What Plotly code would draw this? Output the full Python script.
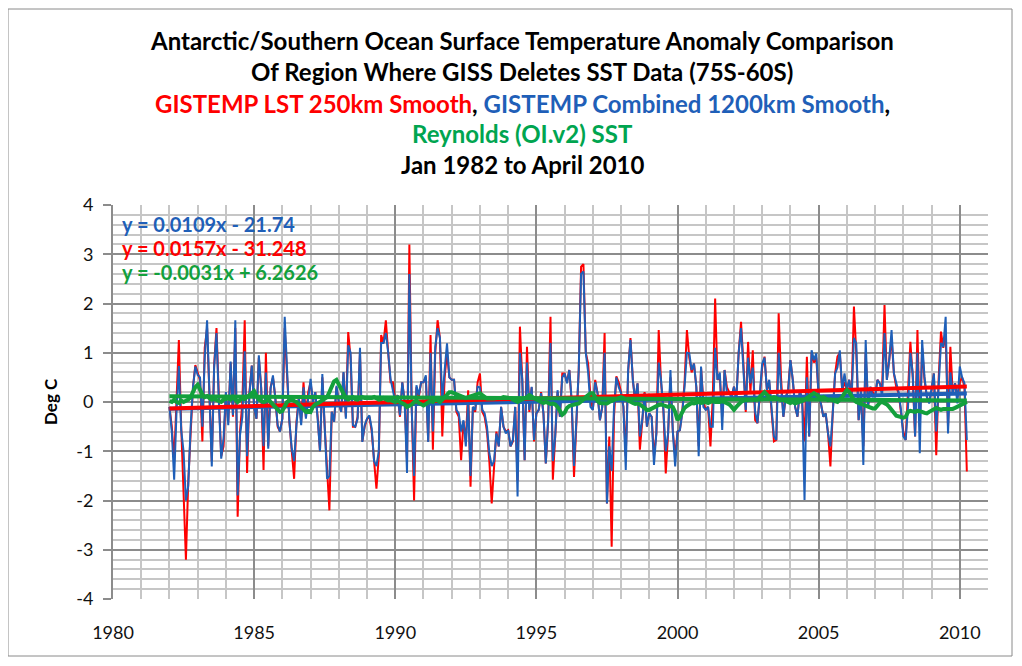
import plotly.graph_objects as go

# ---------------- data (monthly, Jan 1982 .. Apr 2010) ----------------
start_year = 1982
gistemp_lst_250km = [
    -0.1, -0.5, -1.2, -0.1, 1.26, -0.5, -1.8, -3.2, -1.6, -0.5, 0.3, 0.75,
    0.6, 0.45, -0.8, 1.1, 1.5, 0.2, -1.2, 0.75, 1.5, 0.1, -1.1, -0.9,
    0.18, -0.4, 0.8, -0.3, 1.5, -2.33, -0.6, 0.0, 1.66, -1.44, 0.2, 0.74,
    -0.1, -0.34, 0.9, 0.3, -1.38, 1.0, -0.9, 0.3, 0.5, 0.1, -0.5, -0.6,
    -0.34, 1.5, 0.5, -0.4, -1.0, -1.56, -0.4, 0.1, -0.4, 0.4, -0.3, 0.2,
    0.4, 0.0, 0.2, -0.3, -1.0, 0.5, -0.5, -1.4, -2.2, -0.2, -0.4, 0.3,
    0.0, -0.2, 0.6, -0.3, 1.42, 0.9, -0.5, -0.5, -0.3, 1.0, -0.8, -0.5,
    -0.34, -0.3, -0.6, -1.2, -1.76, -1.1, 1.36, 1.2, 1.66, 1.0, 0.4, 0.4,
    0.0, 0.14, -0.3, 0.4, 0.0, -1.2, 3.2, -0.1, -2.0, 0.3, 0.1, 0.4,
    0.4, 0.5, -0.8, 1.36, -0.97, 1.0, 1.66, 1.3, -0.7, 0.5, 1.0, 0.5,
    0.45, 0.45, -0.2, -0.3, -1.18, -0.4, -0.8, 0.24, -1.72, -0.1, -0.2, 0.4,
    0.58, -0.2, -0.3, -0.6, -1.2, -2.06, -1.38, -0.6, -0.9, -0.1, -0.5, -0.6,
    -0.57, -0.9, -0.8, -0.1, -1.6, 1.53, 0.45, -1.18, 1.12, -0.2, 0.3, -0.8,
    -0.23, -0.16, 0.2, -0.23, -1.25, -0.37, 1.73, -1.58, -0.7, 0.2, -0.3, 0.58,
    0.58, 0.4, 0.65, 0.0, -1.52, -0.4, 0.65, 2.75, 2.8, 1.0, 0.78, 0.1,
    -0.16, 0.45, 0.18, -0.37, -0.1, 1.4, -2.06, -0.7, -2.94, -0.3, 0.52, 0.4,
    0.2, -0.1, -1.1, 0.6, 1.3, 0.45, 0.0, 0.38, -0.97, -0.4, 0.2, -0.5,
    -0.23, -0.3, -1.1, -0.64, 1.46, 0.4, -0.16, -1.45, -0.64, 0.5, -0.6, -1.1,
    -0.6, -0.57, -0.2, 0.4, 1.46, 0.9, 0.6, 0.78, 0.3, -0.9, 0.7, 0.0,
    -0.16, -0.1, -0.9, 0.1, 2.1, 0.45, 0.5, -0.3, 0.65, 0.3, 0.2, 0.1,
    0.31, 0.04, 1.0, 1.63, 0.8, -0.2, 1.22, 0.2, 1.05, -0.37, -0.43, 0.18,
    0.7, 0.92, 0.24, 0.4, -0.2, -0.8, -0.77, 1.8, 0.5, -0.3, 0.1, 0.24,
    0.85, 0.45, -0.1, -0.3, 0.24, 0.0, -0.8, 0.92, -0.7, 1.0, 0.8, 0.9,
    0.11, -0.04, -0.3, -0.23, -0.64, -1.31, -0.2, 0.58, 0.92, 1.0, 0.24, 0.4,
    0.24, 0.45, 0.1, 1.94, 1.0, -0.37, 0.2, -0.9, 1.0, -0.1, 0.3, 0.2,
    0.11, 0.45, 0.38, 0.3, 1.97, 0.45, 0.85, 1.3, 0.58, 0.3, 0.18, -0.2,
    -0.6, -0.77, 0.2, 1.22, 0.5, -0.7, 1.46, -0.5, 1.1, 0.45, 0.1, 0.0,
    0.24, 0.58, -1.08, 0.45, 1.43, 1.1, 1.4, -0.5, 1.12, 0.18, 0.38, 0.1,
    0.4, 0.5, 0.3, -1.41,
]
gistemp_combined_1200km = [
    -0.1, -0.6, -1.58, -0.2, 0.73, -0.57, -1.0, -2.0, -1.7, -0.5, 0.3, 0.72,
    0.55, 0.5, -0.5, 0.9, 1.66, 0.3, -1.31, 0.7, 1.4, 0.0, -1.15, -0.74,
    0.2, -0.47, 0.82, -0.27, 1.66, -1.9, -0.67, -0.3, 1.03, -1.1, 0.14, 0.74,
    -0.1, -0.34, 0.95, 0.27, -0.9, 0.6, -0.95, 0.27, 0.54, 0.07, -0.47, -0.6,
    -0.34, 1.73, 0.54, -0.4, -0.95, -1.2, -0.47, 0.07, -0.47, 0.3, -0.34, 0.1,
    0.47, 0.0, 0.2, -0.34, -1.0, 0.57, -0.47, -1.56, -1.5, -0.2, -0.4, 0.33,
    0.0, -0.2, 0.61, -0.34, 1.15, 1.0, -0.47, -0.5, -0.34, 1.1, -0.81, -0.47,
    -0.34, -0.27, -0.54, -1.2, -1.3, -1.0, 1.2, 1.2, 1.4, 1.0, 0.47, 0.2,
    0.0, 0.14, -0.27, 0.4, 0.0, -1.44, 2.6, -0.14, -1.5, 0.34, 0.14, 0.4,
    0.4, 0.54, -0.81, 1.0, -0.6, 1.12, 1.5, 1.3, 0.0, 0.65, 1.19, 0.5,
    0.45, 0.45, -0.16, -0.23, -0.6, -0.37, -0.9, 0.0, -1.5, -0.1, -0.16, 0.31,
    0.3, -0.16, -0.23, -0.5, -1.04, -1.3, -1.2, -0.64, -0.9, -0.1, -0.5, -0.64,
    -0.57, -0.9, -0.77, -0.1, -1.92, 1.0, 0.45, -1.18, 0.8, -0.16, 0.31, -0.77,
    -0.23, -0.16, 0.18, -0.23, -1.25, -0.37, 1.2, -1.2, -0.7, 0.24, -0.3, 0.5,
    0.58, 0.38, 0.65, 0.04, -1.3, -0.37, 0.65, 2.6, 2.65, 1.0, 0.6, -0.1,
    -0.16, 0.4, 0.18, -0.37, -0.1, 1.0, -2.06, -0.9, -1.4, -0.1, 0.5, 0.3,
    0.18, -0.1, -1.38, 0.65, 1.26, 0.45, 0.04, 0.38, -0.7, -0.37, 0.18, -0.5,
    -0.23, -0.3, -1.28, -0.64, 0.8, 0.45, -0.16, -1.0, -0.64, 0.65, -0.6, -1.31,
    -0.6, -0.57, -0.23, 0.31, 1.0, 0.99, 0.65, 0.78, 0.31, -1.1, 0.72, -0.1,
    -0.16, -0.1, -0.5, -0.5, 1.1, 0.45, 0.6, -0.57, 0.65, 0.18, 0.18, 0.1,
    0.31, 0.04, 1.0, 1.5, 0.78, -0.16, 0.9, 0.38, 0.7, -0.2, -0.43, 0.1,
    0.78, 0.9, 0.24, 0.45, -0.23, -0.7, -0.77, 1.0, 0.31, -0.3, 0.11, 0.2,
    0.85, 0.45, -0.1, -0.3, 0.24, 0.04, -1.99, 0.5, -0.7, 1.05, 0.85, 0.99,
    0.11, -0.04, -0.3, -0.23, -0.64, -0.9, -0.23, 0.58, 0.7, 1.05, 0.24, 0.58,
    0.24, 0.45, 0.04, 1.3, 1.19, -0.37, 0.24, -1.28, 1.26, -0.1, 0.31, 0.11,
    0.11, 0.45, 0.38, 0.11, 1.4, 0.45, 0.85, 1.46, 0.58, 0.38, 0.2, -0.16,
    -0.7, -0.77, -0.1, 1.0, 0.58, -0.7, 1.0, -1.04, 1.26, 0.51, 0.11, -0.03,
    0.24, 0.58, -0.6, 0.45, 1.2, 1.12, 1.73, -0.64, 0.6, 0.18, 0.38, -0.03,
    0.72, 0.5, 0.38, -0.77,
]
reynolds_oiv2_sst = [
    0.02, 0.0, 0.05, 0.0, -0.02, 0.03, 0.0, 0.02, 0.05, 0.1, 0.22, 0.3,
    0.35, 0.25, 0.15, 0.1, 0.12, 0.08, 0.05, 0.06, 0.05, 0.02, 0.0, 0.05,
    0.06, 0.08, 0.05, 0.1, 0.05, 0.0, 0.04, 0.08, 0.06, 0.1, 0.15, 0.18,
    0.22, 0.12, 0.05, 0.02, 0.0, 0.02, 0.05, 0.0, -0.05, -0.1, -0.15, -0.2,
    -0.18, -0.1, 0.0, 0.03, 0.05, 0.02, 0.0, -0.05, -0.1, -0.15, -0.2, -0.18,
    -0.2, -0.1, -0.05, -0.03, 0.0, 0.03, 0.05, 0.1, 0.2, 0.3, 0.42, 0.45,
    0.35, 0.25, 0.15, 0.08, 0.05, 0.08, 0.1, 0.06, 0.05, 0.08, 0.1, 0.08,
    0.08, 0.06, 0.08, 0.1, 0.07, 0.05, 0.06, 0.08, 0.05, 0.03, 0.04, 0.02,
    0.0, 0.02, 0.0, -0.03, -0.05, -0.1, -0.08, -0.05, 0.0, 0.03, -0.02, -0.05,
    -0.07, -0.04, 0.0, 0.02, 0.0, 0.05, 0.03, 0.0, 0.05, 0.1, 0.15, 0.2,
    0.2, 0.18, 0.14, 0.12, 0.1, 0.1, 0.08, 0.1, 0.12, 0.14, 0.16, 0.18,
    0.18, 0.14, 0.1, 0.07, 0.07, 0.06, 0.07, 0.08, 0.07, 0.08, 0.1, 0.1,
    0.1, 0.08, 0.05, 0.02, 0.0, 0.03, 0.05, 0.08, 0.1, 0.14, 0.12, 0.08,
    0.05, 0.03, 0.0, -0.02, 0.0, -0.02, -0.04, -0.03, -0.05, -0.1, -0.2, -0.26,
    -0.22, -0.12, -0.08, -0.06, -0.05, -0.04, -0.03, 0.0, 0.05, 0.1, 0.15, 0.18,
    0.18, 0.1, 0.02, -0.02, -0.03, -0.02, -0.03, 0.0, 0.02, 0.05, 0.08, 0.1,
    0.1, 0.08, 0.05, 0.02, 0.0, -0.02, -0.04, -0.03, -0.05, -0.08, -0.12, -0.16,
    -0.16, -0.13, -0.1, -0.08, -0.06, -0.05, -0.06, -0.08, -0.1, -0.08, -0.1, -0.2,
    -0.37, -0.3, -0.2, -0.12, -0.08, -0.04, -0.02, -0.03, -0.02, 0.0, -0.02, -0.01,
    0.0, -0.02, 0.0, 0.02, 0.0, -0.01, 0.0, 0.02, 0.0, -0.02, -0.05, -0.1,
    -0.16, -0.1, -0.04, 0.0, 0.03, 0.04, 0.03, 0.04, 0.05, 0.04, 0.05, 0.1,
    0.15, 0.2, 0.15, 0.1, 0.08, 0.1, 0.08, 0.05, 0.04, 0.04, 0.02, 0.0,
    -0.02, 0.0, -0.03, -0.01, 0.0, 0.02, 0.05, 0.08, 0.1, 0.14, 0.18, 0.15,
    0.12, 0.08, 0.1, 0.06, 0.04, 0.05, 0.04, 0.03, 0.0, 0.05, 0.1, 0.18,
    0.24, 0.2, 0.1, 0.04, 0.0, -0.02, -0.04, -0.06, -0.08, -0.1, -0.12, -0.13,
    -0.13, -0.08, -0.02, 0.0, -0.02, -0.05, -0.1, -0.15, -0.22, -0.28, -0.3, -0.3,
    -0.32, -0.3, -0.2, -0.18, -0.2, -0.2, -0.18, -0.18, -0.2, -0.22, -0.23, -0.2,
    -0.18, -0.15, -0.12, -0.14, -0.16, -0.14, -0.14, -0.16, -0.15, -0.14, -0.12, -0.1,
    -0.08, -0.04, -0.02, 0.0,
]
# linear trend equations shown on the chart: (slope, intercept, label)
trend_combined = (0.0109, -21.74, "y = 0.0109x - 21.74")
trend_lst = (0.0157, -31.248, "y = 0.0157x - 31.248")
trend_reynolds = (-0.0031, 6.2626, "y = -0.0031x + 6.2626")

x_range = [1980, 2011]
y_range = [-4, 4]
y_tick_values = [4, 3, 2, 1, 0, -1, -2, -3, -4]
y_tick_labels = ["4", "3", "2", "1", "0", "-1", "-2", "-3", "-4"]

title_lines = [
    "Antarctic/Southern Ocean Surface Temperature Anomaly Comparison",
    "Of Region Where GISS Deletes SST Data (75S-60S)",
    None,
    "Reynolds (OI.v2) SST",
    "Jan 1982 to April 2010",
]

# ---------------- styling ----------------
RED = "#ff0000"
BLUE = "#1f5fb8"
GREEN = "#13a03c"
FONT = "Lato"

OFF = 8  # page body margin: reference pixel p sits at figure pixel p - OFF
W, H = 1006, 650
L, R, T, B = 113 - OFF, 988 - OFF, 205 - OFF, 599 - OFF


def px_x(px):
    return (px - OFF - L) / (R - L)


def px_y(py):
    return (B - (py - OFF)) / (B - T)


n = len(gistemp_combined_1200km)
t = [start_year + i / 12 for i in range(n)]

fig = go.Figure()
fig.add_trace(go.Scatter(x=t, y=gistemp_lst_250km, mode="lines",
                         line=dict(color=RED, width=2), name="LST 250km"))
fig.add_trace(go.Scatter(x=t, y=gistemp_combined_1200km, mode="lines",
                         line=dict(color=BLUE, width=2), name="Combined 1200km"))

t_end = [t[0], t[-1]]
for (m, c, _), col in [(trend_combined, BLUE), (trend_lst, RED), (trend_reynolds, GREEN)]:
    fig.add_trace(go.Scatter(x=t_end, y=[m * v + c for v in t_end], mode="lines",
                             line=dict(color=col, width=4), showlegend=False))

fig.add_trace(go.Scatter(x=t, y=reynolds_oiv2_sst, mode="lines",
                         line=dict(color=GREEN, width=4), name="Reynolds"))

tick_font = dict(family=FONT, size=18, color="#111111")
fig.update_xaxes(range=x_range, tick0=1980, dtick=5, showgrid=True,
                 gridcolor="#8c8c8c", gridwidth=2, zeroline=False,
                 minor=dict(dtick=1, showgrid=True, gridcolor="#c6c6c6", gridwidth=2),
                 ticks="", showline=False, tickfont=tick_font, ticklabelstandoff=21)
fig.update_yaxes(range=y_range, tickmode="array", tickvals=y_tick_values,
                 ticktext=y_tick_labels, showgrid=True,
                 gridcolor="#8c8c8c", gridwidth=2, zeroline=False,
                 minor=dict(tick0=-4, dtick=0.2, showgrid=True, gridcolor="#c6c6c6",
                            gridwidth=2, ticks=""),
                 ticks="outside", ticklen=8, tickwidth=2, tickcolor="#8c8c8c",
                 showline=True, linecolor="#8c8c8c", linewidth=2,
                 tickfont=tick_font, ticklabelstandoff=6)

annotations = []
title_y = [40, 71, 103, 134, 165]
title_x = px_x(522)
line3 = (f"<span style='color:{RED}'>GISTEMP LST 250km Smooth</span>, "
         f"<span style='color:{BLUE}'>GISTEMP Combined 1200km Smooth</span>,")
for i, txt in enumerate(title_lines):
    color = "#000000"
    if i == 2:
        txt = line3
    if i == 3:
        color = "#00a550"
    annotations.append(dict(text=f"<b>{txt}</b>", x=title_x, y=px_y(title_y[i]),
                            xref="paper", yref="paper", xanchor="center", yanchor="middle",
                            showarrow=False, font=dict(family=FONT, size=24, color=color)))

for (m, c, lbl), col, py in [(trend_combined, BLUE, 224), (trend_lst, RED, 248),
                             (trend_reynolds, GREEN, 272)]:
    annotations.append(dict(text=f"<b>{lbl}</b>", x=px_x(120), y=px_y(py),
                            xref="paper", yref="paper", xanchor="left", yanchor="middle",
                            showarrow=False, font=dict(family=FONT, size=20, color=col)))

annotations.append(dict(text="<b>Deg C</b>", x=px_x(50), y=px_y(402), xref="paper",
                        yref="paper", xanchor="center", yanchor="middle", textangle=-90,
                        showarrow=False, font=dict(family=FONT, size=17, color="#000000")))

fig.update_layout(
    width=W, height=H, autosize=False,
    margin=dict(l=L, r=W - R, t=T, b=H - B, pad=0),
    paper_bgcolor="white", plot_bgcolor="white",
    showlegend=False, annotations=annotations,
    shapes=[dict(type="rect", xref="paper", yref="paper",
                 x0=px_x(8), x1=px_x(1012), y0=px_y(656), y1=px_y(9),
                 line=dict(color="#8a8a8a", width=1), layer="below")],
)

fig.write_html("out.html")
